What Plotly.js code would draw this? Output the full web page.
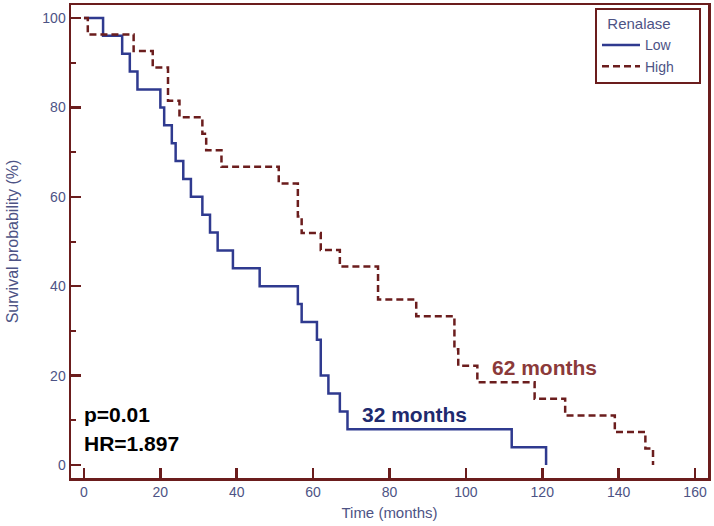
<!DOCTYPE html>
<html>
<head>
<meta charset="utf-8">
<script src="https://cdn.plot.ly/plotly-3.0.1.min.js"></script>
<style>html,body{margin:0;padding:0;background:#fff;}#chart{width:714px;height:526px;}</style>
</head>
<body>
<div id="chart"></div>
<script>
// Kaplan-Meier step data
const lowTime = [0, 5, 10, 12, 14, 20, 21, 23, 24, 26, 28, 31, 33, 35, 39, 46, 56, 57, 61, 62, 64, 67, 69, 112, 121];
const lowSurv = [100, 96, 92, 88, 84, 80, 76, 72, 68, 64, 60, 56, 52, 48, 44, 40, 36, 32, 28, 20, 16, 12, 8, 4, 0];
const highTime = [0, 1, 13, 18, 22, 25, 31, 32, 36, 51, 56, 57, 62, 67, 77, 87, 97, 98, 103, 118, 126, 139, 147, 149];
const highSurv = [100, 96.3, 92.6, 88.9, 81.5, 77.8, 74.1, 70.4, 66.7, 63.0, 55.6, 51.9, 48.1, 44.4, 37.0, 33.3, 25.9, 22.2, 18.5, 14.8, 11.1, 7.4, 3.7, 0];
const seriesNames = ["Low", "High"];
const legendTitle = "Renalase";
const xTicks = [0, 20, 40, 60, 80, 100, 120, 140, 160];
const yTicks = [0, 20, 40, 60, 80, 100];
const xTitle = "Time (months)";
const yTitle = "Survival probability (%)";

const frame = "#6b1d1d";
const labelColor = "#4d5385";
const font = "Liberation Sans, Arial, sans-serif";
const pad = "&nbsp;&nbsp;&nbsp;&nbsp;&nbsp;";

const traces = [
  {x: lowTime, y: lowSurv, name: seriesNames[0] + pad, type: "scatter", mode: "lines",
   line: {shape: "hv", color: "#2f3a8f", width: 2.5}},
  {x: highTime, y: highSurv, name: seriesNames[1] + pad, type: "scatter", mode: "lines",
   line: {shape: "hv", color: "#6b1d1d", width: 2.5, dash: "7px,4px"}}
];

const layout = {
  width: 714, height: 526,
  margin: {l: 71, r: 6, t: 5, b: 48},
  paper_bgcolor: "#fff", plot_bgcolor: "#fff",
  font: {family: font, color: labelColor, size: 14},
  showlegend: true,
  legend: {
    x: 0.989, xanchor: "right", y: 0.994, yanchor: "top",
    bordercolor: frame, borderwidth: 2, bgcolor: "#fff",
    title: {text: "&nbsp;&nbsp;" + legendTitle, font: {size: 15, color: labelColor}},
    font: {size: 14, color: labelColor},
    itemwidth: 38,
    tracegroupgap: 0
  },
  xaxis: {
    range: [-3.4, 163.4], tickvals: xTicks, ticktext: xTicks.map(String),
    showgrid: false, zeroline: false,
    showline: true, linecolor: frame, linewidth: 2.5, mirror: true,
    ticks: "inside", ticklen: 10, tickwidth: 2.5, tickcolor: frame,
    tickfont: {size: 14, color: labelColor},
    title: {text: xTitle, font: {size: 15, color: labelColor}, standoff: 8}
  },
  yaxis: {
    range: [-2.9, 102.9], tickvals: yTicks, ticktext: yTicks.map(String),
    showgrid: false, zeroline: false,
    showline: true, linecolor: frame, linewidth: 2.5, mirror: true,
    ticks: "inside", ticklen: 10, tickwidth: 2.5, tickcolor: frame,
    tickfont: {size: 14, color: labelColor},
    minor: {dtick: 10, ticks: "inside", ticklen: 5, tickwidth: 2, tickcolor: frame, showgrid: false},
    title: {text: yTitle, font: {size: 16, color: labelColor}, standoff: 20}
  },
  annotations: [
    {x: 86.6, y: 11.4, xref: "x", yref: "y", text: "<b>32 months</b>", showarrow: false,
     font: {size: 21, color: "#1f2a6e", family: font}},
    {x: 120.7, y: 21.9, xref: "x", yref: "y", text: "<b>62 months</b>", showarrow: false,
     font: {size: 21, color: "#8b3a3a", family: font}},
    {x: -0.6, y: 11.2, xref: "x", yref: "y", xanchor: "left", text: "<b>p=0.01</b>", showarrow: false,
     font: {size: 21, color: "#000", family: font}},
    {x: -0.6, y: 4.9, xref: "x", yref: "y", xanchor: "left", text: "<b>HR=1.897</b>", showarrow: false,
     font: {size: 21, color: "#000", family: font}}
  ]
};

Plotly.newPlot("chart", traces, layout, {displayModeBar: false, staticPlot: true});
</script>
</body>
</html>
